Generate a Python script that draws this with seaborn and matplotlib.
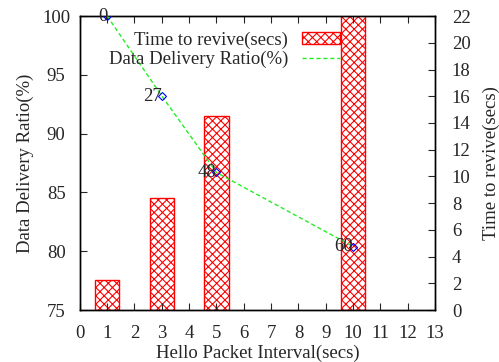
import matplotlib
matplotlib.use("Agg")
import matplotlib.pyplot as plt
import seaborn as sns
import pandas as pd
from matplotlib.patches import Patch
from matplotlib.lines import Line2D

# data
intervals = [1, 3, 5, 10]
revive_time = [2.25, 8.35, 14.55, 23.0]
delivery_ratio = [100.0, 93.2, 86.7, 80.4]
point_labels = ["0", "27", "48", "60"]
x_ticks = list(range(0, 14))
left_ticks = [75, 80, 85, 90, 95, 100]
right_ticks = list(range(0, 23, 2))

FS = 13.5
HATCH = "xxxx"
sns.set_style("white")
plt.rcParams['font.family'] = ['Liberation Serif', 'DejaVu Serif']
plt.rcParams['font.size'] = FS
plt.rcParams['hatch.linewidth'] = 0.8

df = pd.DataFrame({"interval": intervals, "revive": revive_time, "ratio": delivery_ratio})

fig = plt.figure(figsize=(4.99, 3.62), dpi=100)
ax = fig.add_axes([0.160, 0.1436, 0.712, 0.812])
ax2 = ax.twinx()

# bars on right axis
sns.barplot(data=df, x="interval", y="revive", ax=ax2, native_scale=True,
            width=0.45, color="red", fill=False, hatch=HATCH, linewidth=1.0,
            errorbar=None)
ax2.set_ylim(0, 22)
ax2.set_yticks(right_ticks)
ax2.set_ylabel("Time to revive(secs)", fontsize=FS, labelpad=9)

# line on left axis
green = "#22ee22"
sns.lineplot(data=df, x="interval", y="ratio", ax=ax, color=green,
             linewidth=1.0, dashes=False, linestyle=(0, (3, 2)), zorder=3)
ax.plot(df["interval"], df["ratio"], linestyle="none", marker="D", markersize=4,
        markerfacecolor="none", markeredgecolor="blue", markeredgewidth=0.8, zorder=4)
for xv, yv, lab in zip(intervals, delivery_ratio, point_labels):
    ax.text(xv, yv, lab, ha="right", va="center", fontsize=FS, zorder=5)

ax.set_zorder(ax2.get_zorder() + 1)
ax.patch.set_visible(False)

ax.set_xlim(0, 13)
ax.set_xticks(x_ticks)
ax.set_ylim(75, 100)
ax.set_yticks(left_ticks)
ax.set_xlabel("Hello Packet Interval(secs)", fontsize=FS, labelpad=2)
ax.set_ylabel("Data Delivery Ratio(%)", fontsize=FS, labelpad=6)
ax2.set_xlabel("")

for a in (ax, ax2):
    for s in a.spines.values():
        s.set_color("black")
        s.set_linewidth(1.0)
ax.tick_params(axis="x", direction="in", top=True, bottom=True, length=5, width=0.8, labelsize=FS, pad=10.5)
ax.tick_params(axis="y", direction="in", left=True, right=False, length=5, width=0.8, labelsize=FS, pad=17)
for t in ax.get_yticklabels():
    t.set_horizontalalignment("center")
ax2.tick_params(axis="y", direction="in", right=True, left=False, length=5, width=0.8, labelsize=FS, pad=12)

handles = [Patch(facecolor="none", edgecolor="red", hatch=HATCH, linewidth=1.0),
           Line2D([], [], color=green, linewidth=1.0, linestyle=(0, (3, 2)))]
leg = ax.legend(handles, ["Time to revive(secs)", "Data Delivery Ratio(%)"],
                loc="upper right", bbox_to_anchor=(0.732, 0.948), frameon=False,
                markerfirst=False, handlelength=2.0, handleheight=0.55,
                labelspacing=0.1, handletextpad=0.75, fontsize=FS, borderaxespad=0,
                borderpad=0)

fig.savefig("out.png", dpi=100)
